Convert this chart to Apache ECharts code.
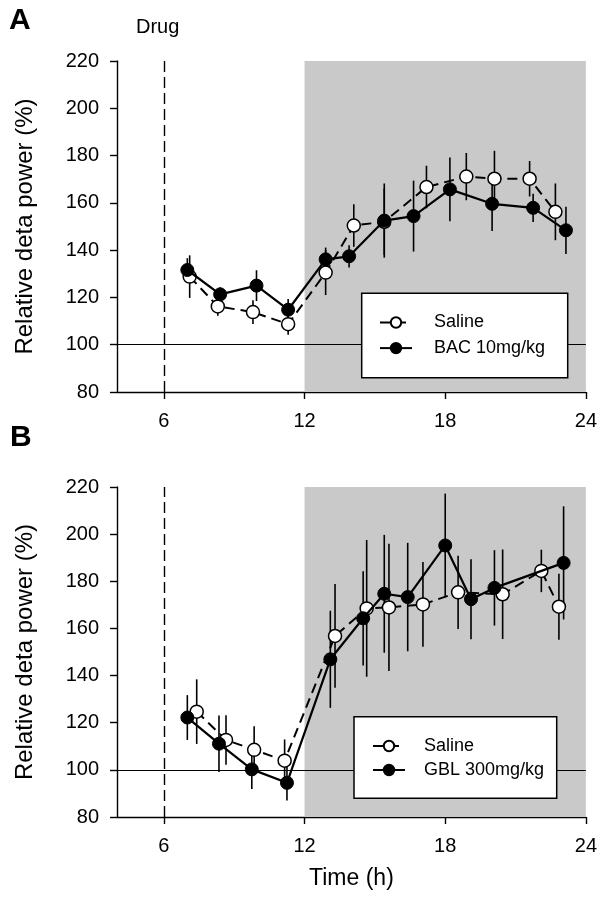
<!DOCTYPE html>
<html>
<head>
<meta charset="utf-8">
<script src="https://cdn.jsdelivr.net/npm/echarts@6/dist/echarts.min.js"></script>
<style>
html,body{margin:0;padding:0;background:#fff;}
#chart{width:600px;height:898px;}
</style>
</head>
<body>
<div id="chart"></div>
<script>
// ---- Data ----
const xTicks = [6, 12, 18, 24];

// Panel A
const hoursSalineA = [7.1, 8.3, 9.8, 11.3, 12.9, 14.1, 15.4, 17.2, 18.9, 20.1, 21.6, 22.7];
const salineA      = [128.8, 116.2, 113.8, 108.7, 130.5, 150.4, 152.0, 166.7, 171.1, 170.2, 170.2, 156.2];
const salineAErr   = [9, 4, 5, 4.5, 9.5, 9, 14, 9, 10, 11.8, 7.5, 12];
const hoursBacA    = [7.0, 8.4, 9.95, 11.3, 12.9, 13.9, 15.4, 16.65, 18.2, 20.0, 21.75, 23.15];
const bacA         = [131.6, 121.3, 125.0, 114.8, 136.1, 137.4, 152.5, 154.4, 165.7, 159.6, 157.9, 148.4];
const bacAErr      = [5, 3, 6.5, 4.5, 5, 4.7, 15.7, 15, 13.5, 11.5, 6, 10];

// Panel B
const hoursSalineB = [7.4, 8.65, 9.85, 11.15, 13.3, 14.65, 15.6, 17.05, 18.55, 20.45, 22.1, 22.85];
const salineB      = [124.7, 112.7, 108.5, 103.9, 156.8, 168.5, 168.9, 170.2, 175.3, 174.5, 184.4, 169.2];
const salineBErr   = [13.7, 10.5, 10, 9, 22, 29, 27, 18, 15.5, 19, 9, 14];
const hoursGblB    = [7.0, 8.35, 9.75, 11.25, 13.1, 14.5, 15.4, 16.4, 18.0, 19.1, 20.1, 23.05];
const gblB         = [122.2, 111.1, 100.2, 94.5, 146.9, 164.3, 174.7, 173.3, 195.2, 172.4, 177.2, 187.8];
const gblBErr      = [9.5, 12, 8.3, 7.5, 20.6, 20, 25, 23, 22, 17, 16, 24];

const drugTime = 6, darkStart = 12, darkEnd = 24, baseline = 100;

// ---- helpers ----
const FONT = 'Liberation Sans, Arial, sans-serif';
function pairs(xs, ys) { return xs.map((x, i) => [x, ys[i]]); }
function triples(xs, ys, es) { return xs.map((x, i) => [x, ys[i], es[i]]); }

function errSeries(idx, xs, ys, es) {
  return {
    type: 'custom', xAxisIndex: idx, yAxisIndex: idx, z: 3, silent: true,
    data: triples(xs, ys, es),
    encode: { x: 0, y: 1 },
    renderItem: function (params, api) {
      const x = api.value(0), y = api.value(1), e = api.value(2);
      const p1 = api.coord([x, y - e]);
      const p2 = api.coord([x, y + e]);
      return { type: 'line', shape: { x1: p1[0], y1: p1[1], x2: p2[0], y2: p2[1] },
               style: { stroke: '#000', lineWidth: 1.6 } };
    }
  };
}
function salineSeries(idx, xs, ys) {
  return {
    name: 'Saline', type: 'line', xAxisIndex: idx, yAxisIndex: idx, z: 4,
    data: pairs(xs, ys), symbol: 'circle', symbolSize: 13,
    itemStyle: { color: '#fff', borderColor: '#000', borderWidth: 1.5 },
    lineStyle: { color: '#000', width: 2, type: [10, 6] },
    emphasis: { disabled: true }
  };
}
function drugSeries(idx, name, xs, ys) {
  return {
    name: name, type: 'line', xAxisIndex: idx, yAxisIndex: idx, z: 5,
    data: pairs(xs, ys), symbol: 'circle', symbolSize: 13,
    itemStyle: { color: '#000', borderColor: '#000', borderWidth: 1 },
    lineStyle: { color: '#000', width: 2.2 },
    emphasis: { disabled: true }
  };
}
function bgSeries(idx) {
  return {
    type: 'line', xAxisIndex: idx, yAxisIndex: idx, z: 1, data: [], silent: true,
    markArea: { silent: true, itemStyle: { color: '#c9c9c9' },
      data: [[{ coord: [darkStart, 220] }, { coord: [darkEnd, 80] }]] },
    markLine: { silent: true, symbol: 'none', label: { show: false },
      data: [
        [{ coord: [4, baseline], lineStyle: { color: '#000', width: 1, type: 'solid' } }, { coord: [24, baseline] }],
        [{ coord: [drugTime, 80], lineStyle: { color: '#000', width: 1.4, type: [11, 5] } }, { coord: [drugTime, 220] }]
      ] }
  };
}
function xAxis(idx, withName) {
  return {
    type: 'value', gridIndex: idx, min: 4, max: 24,
    name: withName ? 'Time (h)' : '', nameLocation: 'middle', nameGap: 50,
    nameTextStyle: { fontFamily: FONT, fontSize: 23, color: '#000' },
    axisLine: { show: true, onZero: false, lineStyle: { color: '#000', width: 1.4 } },
    axisTick: { show: true, length: 7, lineStyle: { color: '#000', width: 1.4 }, customValues: xTicks },
    axisLabel: { fontFamily: FONT, fontSize: 20, color: '#000', margin: 19, customValues: xTicks },
    splitLine: { show: false }
  };
}
function yAxis(idx) {
  return {
    type: 'value', gridIndex: idx, min: 80, max: 220, interval: 20,
    name: 'Relative deta power (%)', nameLocation: 'middle', nameGap: 80,
    nameTextStyle: { fontFamily: FONT, fontSize: 24, color: '#000' },
    axisLine: { show: true, lineStyle: { color: '#000', width: 1.4 } },
    axisTick: { show: true, length: 7, lineStyle: { color: '#000', width: 1.4 } },
    axisLabel: { fontFamily: FONT, fontSize: 20, color: '#000', margin: 18 },
    splitLine: { show: false }
  };
}

const chart = echarts.init(document.getElementById('chart'), null, { renderer: 'canvas' });
chart.setOption({
  animation: false,
  backgroundColor: '#fff',
  grid: [
    { left: 117, right: 13.5, top: 61, height: 331 },
    { left: 117, right: 13.5, top: 487, height: 330 }
  ],
  xAxis: [xAxis(0, false), xAxis(1, true)],
  yAxis: [yAxis(0), yAxis(1)],
  legend: [
    { data: ['Saline', 'BAC 10mg/kg'], orient: 'vertical', left: 379, top: 313.5, padding: 0,
      itemWidth: 32, itemHeight: 13, itemGap: 7.6, z: 200, selectedMode: false,
      textStyle: { fontFamily: FONT, fontSize: 18, color: '#000', padding: [0, 0, 0, 17] } },
    { data: ['Saline', 'GBL 300mg/kg'], orient: 'vertical', left: 372, top: 737, padding: 0,
      itemWidth: 32, itemHeight: 13, itemGap: 6, z: 200, selectedMode: false,
      textStyle: { fontFamily: FONT, fontSize: 18, color: '#000', padding: [0, 0, 0, 14] } }
  ],
  graphic: [
    { type: 'rect', z: 100, shape: { x: 361.7, y: 293.3, width: 206, height: 84.4 },
      style: { fill: '#fff', stroke: '#000', lineWidth: 1.5 } },
    { type: 'rect', z: 100, shape: { x: 354, y: 716.7, width: 202.7, height: 81.6 },
      style: { fill: '#fff', stroke: '#000', lineWidth: 1.5 } },
    { type: 'text', z: 100, style: { text: 'A', x: 9, y: 21, verticalAlign: 'middle',
      font: 'bold 30px ' + FONT, fill: '#000' } },
    { type: 'text', z: 100, style: { text: 'B', x: 10, y: 437.5, verticalAlign: 'middle',
      font: 'bold 30px ' + FONT, fill: '#000' } },
    { type: 'text', z: 100, style: { text: 'Drug', x: 136, y: 27, verticalAlign: 'middle',
      font: '20px ' + FONT, fill: '#000' } }
  ],
  series: [
    bgSeries(0),
    errSeries(0, hoursSalineA, salineA, salineAErr),
    errSeries(0, hoursBacA, bacA, bacAErr),
    salineSeries(0, hoursSalineA, salineA),
    drugSeries(0, 'BAC 10mg/kg', hoursBacA, bacA),
    bgSeries(1),
    errSeries(1, hoursSalineB, salineB, salineBErr),
    errSeries(1, hoursGblB, gblB, gblBErr),
    salineSeries(1, hoursSalineB, salineB),
    drugSeries(1, 'GBL 300mg/kg', hoursGblB, gblB)
  ]
});
</script>
</body>
</html>
